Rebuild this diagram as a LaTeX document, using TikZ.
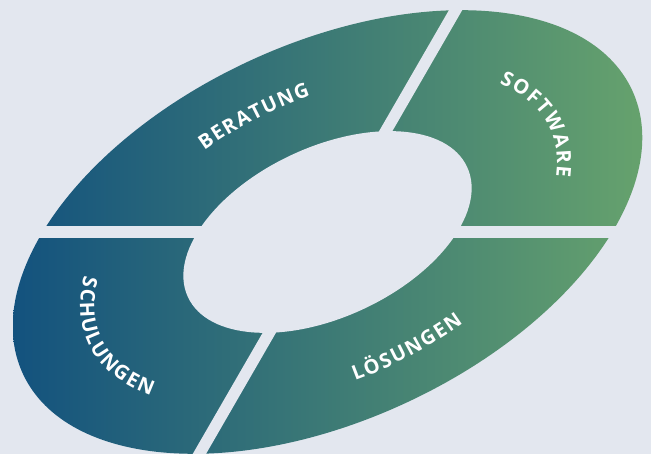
\documentclass[tikz,border=0pt]{standalone}
\usepackage{fontspec}
\newfontfamily\ringfont[WordSpace=0.3]{Open Sans}
\usetikzlibrary{decorations.text}

\definecolor{bgcol}{HTML}{E3E7EF}
\definecolor{ringblue}{HTML}{13527E}
\definecolor{ringgreen}{HTML}{66A26D}

\tikzset{
  gap/.style={draw=bgcol, line width=11.5},
  ringlabel/.style={decorate, decoration={text along path, text align=center,
      text color=white, text={|\ringfont\bfseries\fontsize{20}{20}\selectfont|#1}}},
}

\begin{document}
\begin{tikzpicture}[x=1pt, y=1pt]
\pgfmathsetmacro{\cx}{327.5}
\pgfmathsetmacro{\cy}{222}
\pgfmathsetmacro{\Ra}{336}
\pgfmathsetmacro{\Rb}{188}
\pgfmathsetmacro{\ra}{154}
\pgfmathsetmacro{\rb}{85}
\fill[bgcol] (0,0) rectangle (651,454);
\useasboundingbox (0,0) rectangle (651,454);

% Ring, one gradient from left to right
\begin{scope}
  \clip[shift={(\cx,\cy)}, rotate=25] (0,0) ellipse[x radius=\Ra, y radius=\Rb];
  \shade[left color=ringblue, right color=ringgreen] (13,0) rectangle (643,454);
\end{scope}
\fill[bgcol, shift={(\cx,\cy)}, rotate=25] (0,0) ellipse[x radius=\ra, y radius=\rb];

% Cut the ring into four parts
\draw[gap] (0,\cy) -- (651,\cy);
\draw[gap, shift={(\cx,\cy)}] (60:270) -- (240:270);

% Labels along the ring (spaced capitals)
\begin{scope}[shift={(\cx,\cy)}, rotate=25]
  \path[ringlabel=B E R A T U N G] (135:239 and 133) arc[start angle=135, end angle=55, x radius=239, y radius=133];
  \path[ringlabel=S O F T W A R E] (43:245 and 136) arc[start angle=43, end angle=-37, x radius=245, y radius=136];
  \path[ringlabel=L Ö S U N G E N] (236:264 and 148) arc[start angle=236, end angle=316, x radius=264, y radius=148];
  \path[ringlabel=S C H U L U N G E N] (142:264 and 148) arc[start angle=142, end angle=222, x radius=264, y radius=148];
\end{scope}
\end{tikzpicture}
\end{document}
